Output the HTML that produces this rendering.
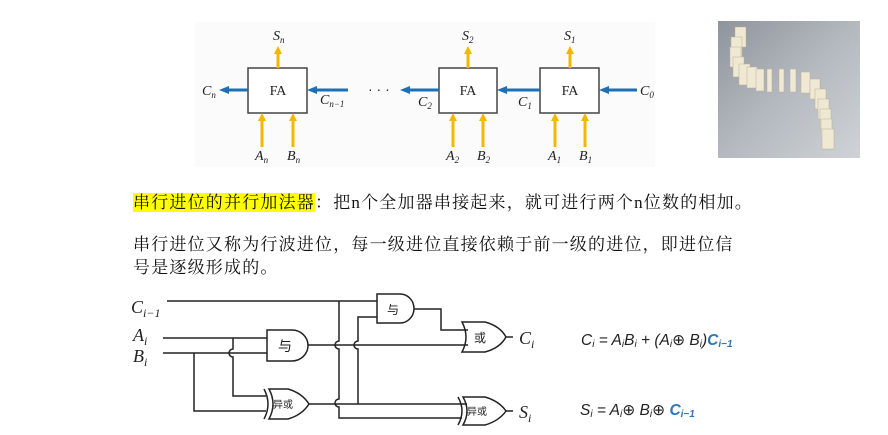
<!DOCTYPE html>
<html><head><meta charset="utf-8"><style>
html,body{margin:0;padding:0;background:#fff;}
body{width:888px;height:435px;overflow:hidden;position:relative;font-family:"Liberation Sans","Noto Sans CJK SC",sans-serif;}
.t{position:absolute;font-family:"Liberation Serif","Noto Serif CJK SC",serif;font-size:17px;letter-spacing:1.2px;line-height:22px;color:#111;white-space:nowrap;}
</style></head><body>
<svg width="888" height="435" style="position:absolute;left:0;top:0" xmlns="http://www.w3.org/2000/svg">
<defs>
<marker id="ya" markerWidth="8" markerHeight="8" refX="4" refY="4" orient="auto" markerUnits="userSpaceOnUse"><path d="M0,0 L8,4 L0,8 z" fill="#f5b800"/></marker>
<marker id="ba" markerWidth="10" markerHeight="8" refX="5" refY="4" orient="auto" markerUnits="userSpaceOnUse"><path d="M0,0 L10,4 L0,8 z" fill="#1f6fb5"/></marker>
<linearGradient id="g" x1="0" y1="0" x2="1" y2="1"><stop offset="0" stop-color="#8e949b"/><stop offset="0.5" stop-color="#b4b9bf"/><stop offset="1" stop-color="#cfd3d7"/></linearGradient>
</defs>
<rect x="195" y="22" width="460" height="145" fill="#fbfbfb"/>
<g fill="#fff" stroke="#444" stroke-width="1.5">
<rect x="248" y="68" width="59" height="45"/>
<rect x="439" y="68" width="58" height="45"/>
<rect x="540" y="68" width="59" height="45"/>
</g>
<g font-family="Liberation Serif,serif" font-size="14" fill="#222" text-anchor="middle">
<text x="278" y="95">FA</text><text x="468" y="95">FA</text><text x="570" y="95">FA</text>
</g>
<g stroke="#f5b800" stroke-width="3" marker-end="url(#ya)">
<line x1="278" y1="68" x2="278" y2="50"/><line x1="468" y1="68" x2="468" y2="50"/><line x1="570" y1="68" x2="570" y2="50"/>
<line x1="262" y1="147" x2="262" y2="117"/><line x1="293" y1="147" x2="293" y2="117"/>
<line x1="453" y1="147" x2="453" y2="117"/><line x1="483" y1="147" x2="483" y2="117"/>
<line x1="555" y1="147" x2="555" y2="117"/><line x1="585" y1="147" x2="585" y2="117"/>
</g>
<g stroke="#1f6fb5" stroke-width="3" marker-end="url(#ba)">
<line x1="248" y1="90" x2="224" y2="90"/><line x1="348" y1="90" x2="312" y2="90"/>
<line x1="439" y1="90" x2="405" y2="90"/><line x1="540" y1="90" x2="502" y2="90"/>
<line x1="637" y1="90" x2="604" y2="90"/>
</g>
<g font-family="Liberation Serif,serif" font-size="14" font-style="italic" fill="#222">
<text x="273" y="40">S<tspan font-size="9" dy="3">n</tspan></text>
<text x="462" y="40">S<tspan font-size="9" dy="3">2</tspan></text>
<text x="564" y="40">S<tspan font-size="9" dy="3">1</tspan></text>
<text x="202" y="95">C<tspan font-size="9" dy="3">n</tspan></text>
<text x="320" y="104">C<tspan font-size="9" dy="3">n−1</tspan></text>
<text x="418" y="106">C<tspan font-size="9" dy="3">2</tspan></text>
<text x="518" y="106">C<tspan font-size="9" dy="3">1</tspan></text>
<text x="640" y="95">C<tspan font-size="9" dy="3">0</tspan></text>
<text x="255" y="160">A<tspan font-size="9" dy="3">n</tspan></text>
<text x="287" y="160">B<tspan font-size="9" dy="3">n</tspan></text>
<text x="446" y="160">A<tspan font-size="9" dy="3">2</tspan></text>
<text x="477" y="160">B<tspan font-size="9" dy="3">2</tspan></text>
<text x="548" y="160">A<tspan font-size="9" dy="3">1</tspan></text>
<text x="579" y="160">B<tspan font-size="9" dy="3">1</tspan></text>
</g>
<text x="368" y="94" font-size="14" fill="#222">· · ·</text>
<rect x="718" y="21" width="142" height="137" fill="url(#g)"/>
<g fill="#efe8d2" stroke="#b9b09a" stroke-width="0.5">
<rect x="735" y="27" width="11" height="20"/><rect x="731" y="37" width="11" height="20"/><rect x="730" y="47" width="11" height="20"/>
<rect x="733" y="57" width="11" height="20"/><rect x="739" y="64" width="11" height="21"/><rect x="747" y="67" width="10" height="21"/>
<rect x="756" y="69" width="8" height="22"/><rect x="767" y="69" width="5" height="23"/><rect x="779" y="69" width="5" height="23"/>
<rect x="790" y="69" width="6" height="23"/><rect x="801" y="72" width="9" height="21"/><rect x="810" y="79" width="10" height="20"/>
<rect x="815" y="89" width="11" height="20"/><rect x="818" y="99" width="11" height="20"/><rect x="820" y="109" width="11" height="19"/>
<rect x="821" y="119" width="11" height="19"/><rect x="822" y="129" width="12" height="20"/>
</g>
<g fill="none" stroke="#222" stroke-width="1.5">
<line x1="167" y1="301" x2="377" y2="301"/>
<path d="M339,301 V341 a4,4 0 0 0 0,8 V399 a4,4 0 0 0 0,8 V418 H462"/>
<path d="M377,317 H358 V341 a4,4 0 0 0 0,8 V404"/>
<line x1="163" y1="338" x2="267" y2="338"/>
<line x1="163" y1="353" x2="267" y2="353"/>
<path d="M233,338 V349 a4,4 0 0 0 0,8 V396 H266"/>
<path d="M194,353 V411 H266"/>
<path d="M377,294 H400 a14,14.5 0 0 1 0,29 H377 Z"/>
<path d="M267,330 H292 a16,15.5 0 0 1 0,31 H267 Z"/>
<path d="M414,309 H441 V330 H468"/>
<line x1="308" y1="345" x2="468" y2="345"/>
<path d="M462,322 H485 Q500,326 506,337 Q500,348 485,352 H462 Q470,337 462,322 Z"/>
<line x1="506" y1="337" x2="513" y2="337"/>
<path d="M269,389 H288 Q302,393 309,404 Q302,415 288,419 H269 Q277,404 269,389 Z"/>
<path d="M264,389 Q272,404 264,419"/>
<line x1="309" y1="404" x2="467" y2="404"/>
<path d="M463,397 H485 Q499,401 506,411 Q499,421 485,425 H463 Q471,411 463,397 Z"/>
<path d="M458,397 Q466,411 458,425"/>
<line x1="506" y1="411" x2="513" y2="411"/>
</g>
<g font-family="Noto Sans CJK SC,sans-serif" fill="#222">
<text x="387" y="314" font-size="12">与</text>
<text x="278" y="351" font-size="14">与</text>
<text x="474" y="342" font-size="12">或</text>
<text x="273" y="408" font-size="10">异或</text>
<text x="467" y="415" font-size="10">异或</text>
</g>
<g font-family="Liberation Serif,serif" font-style="italic" font-size="18" fill="#222">
<text x="131" y="313">C<tspan font-size="12" dy="4">i−1</tspan></text>
<text x="133" y="341">A<tspan font-size="12" dy="4">i</tspan></text>
<text x="133" y="362">B<tspan font-size="12" dy="4">i</tspan></text>
<text x="519" y="344">C<tspan font-size="12" dy="4">i</tspan></text>
<text x="519" y="418">S<tspan font-size="12" dy="4">i</tspan></text>
</g>
<g font-family="Liberation Sans,sans-serif" font-style="italic" font-size="15.5" fill="#222">
<text x="581" y="345">C<tspan font-size="10" dy="2">i</tspan><tspan dy="-2"> = A</tspan><tspan font-size="10" dy="2">i</tspan><tspan dy="-2">B</tspan><tspan font-size="10" dy="2">i</tspan><tspan dy="-2"> + (A</tspan><tspan font-size="10" dy="2">i</tspan><tspan dy="-2" font-style="normal">⊕</tspan><tspan> B</tspan><tspan font-size="10" dy="2">i</tspan><tspan dy="-2">)</tspan><tspan fill="#2e75b6" font-weight="bold">C</tspan><tspan fill="#2e75b6" font-weight="bold" font-size="10" dy="2">i−1</tspan></text>
<text x="580" y="415">S<tspan font-size="10" dy="2">i</tspan><tspan dy="-2"> = A</tspan><tspan font-size="10" dy="2">i</tspan><tspan dy="-2" font-style="normal">⊕</tspan><tspan> B</tspan><tspan font-size="10" dy="2">i</tspan><tspan dy="-2" font-style="normal">⊕ </tspan><tspan fill="#2e75b6" font-weight="bold">C</tspan><tspan fill="#2e75b6" font-weight="bold" font-size="10" dy="2">i−1</tspan></text>
</g>
</svg>
<div class="t" style="left:133px;top:192px;"><span style="background:#ffff00">串行进位的并行加法器</span>：把n个全加器串接起来，就可进行两个n位数的相加。</div>
<div class="t" style="left:133px;top:234px;">串行进位又称为行波进位，每一级进位直接依赖于前一级的进位，即进位信</div>
<div class="t" style="left:133px;top:257px;">号是逐级形成的。</div>
</body></html>
